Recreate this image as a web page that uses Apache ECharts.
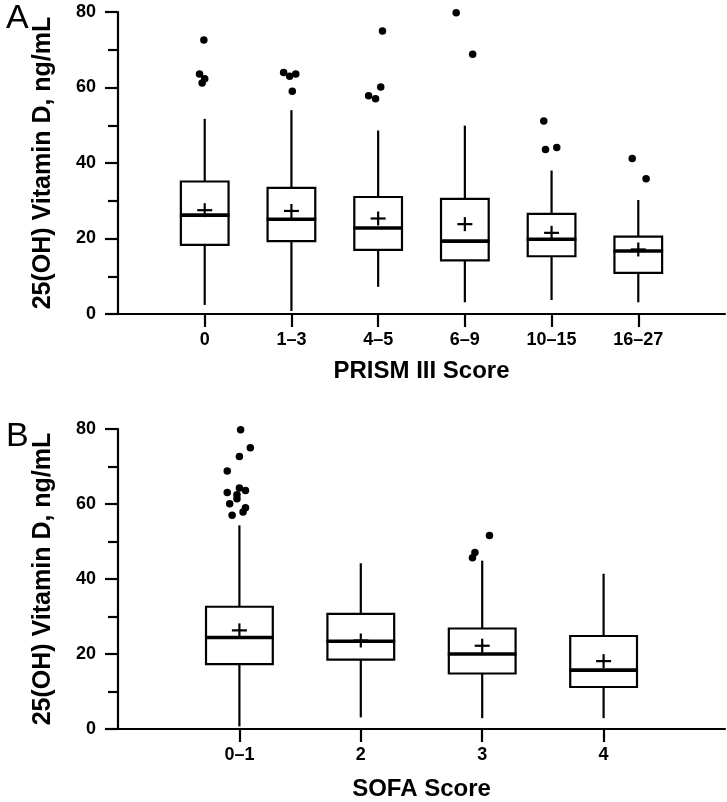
<!DOCTYPE html>
<html>
<head>
<meta charset="utf-8">
<script src="https://cdn.jsdelivr.net/npm/echarts@6/dist/echarts.min.js"></script>
<style>
html,body{margin:0;padding:0;background:#fff;}
#chart{width:727px;height:802px;}
</style>
</head>
<body>
<div id="chart"></div>
<script>
// ---------- Panel A: PRISM III Score ----------
const prismCats   = ['0', '1–3', '4–5', '6–9', '10–15', '16–27'];
const prismMin    = [2.4, 0.8, 7.2, 3.1, 3.7, 3.1];
const prismQ1     = [18.3, 19.3, 17.0, 14.2, 15.3, 10.9];
const prismMedian = [26.2, 25.1, 22.8, 19.3, 19.8, 16.7];
const prismQ3     = [35.1, 33.4, 31.0, 30.5, 26.5, 20.5];
const prismMax    = [51.7, 54.0, 48.6, 49.9, 38.0, 30.2];
const prismMean   = [27.5, 27.3, 25.3, 23.8, 21.5, 17.1];
// outliers: position along the category axis (1 = first group) and value
const prismOutX = [0.99, 0.94, 1.00, 0.97, 1.91, 1.98, 2.05, 2.01, 3.05, 3.03, 2.89, 2.97, 3.90, 4.09, 4.91, 4.93, 5.06, 5.93, 6.09];
const prismOutY = [72.6, 63.6, 62.3, 61.2, 64.0, 63.0, 63.6, 59.0, 75.0, 60.1, 57.8, 57.0, 79.8, 68.8, 51.1, 43.6, 44.1, 41.2, 35.8];

// ---------- Panel B: SOFA Score ----------
const sofaCats   = ['0–1', '2', '3', '4'];
const sofaMin    = [0.7, 3.1, 2.9, 2.9];
const sofaQ1     = [17.3, 18.5, 14.8, 11.2];
const sofaMedian = [24.4, 23.4, 20.0, 15.7];
const sofaQ3     = [32.6, 30.7, 26.8, 24.8];
const sofaMax    = [54.3, 44.2, 44.9, 41.4];
const sofaMean   = [26.3, 23.6, 22.2, 18.1];
const sofaOutX = [1.01, 1.09, 1.00, 0.90, 0.90, 1.00, 1.05, 0.98, 0.98, 0.92, 0.94, 1.03, 1.05, 3.06, 2.94, 2.92];
const sofaOutY = [79.8, 75.0, 72.7, 68.8, 63.1, 64.3, 63.6, 62.5, 61.4, 60.1, 57.0, 57.9, 59.0, 51.6, 47.1, 45.7];

const yTicks = [0, 20, 40, 60, 80];
const yTitle = '25(OH) Vitamin D, ng/mL';

function boxData(mins, q1, med, q3, maxs, means) {
  return mins.map((v, i) => [i + 1, v, q1[i], med[i], q3[i], maxs[i], means[i]]);
}
function outData(xs, ys) { return xs.map((x, i) => [x, ys[i]]); }

const FONT = '"Liberation Sans", Arial, Helvetica, sans-serif';

function renderBox(params, api) {
  const x = api.value(0);
  const lo = api.coord([x, api.value(1)]);
  const q1 = api.coord([x, api.value(2)]);
  const md = api.coord([x, api.value(3)]);
  const q3 = api.coord([x, api.value(4)]);
  const hi = api.coord([x, api.value(5)]);
  const mn = api.coord([x, api.value(6)]);
  const w = api.size([0.55, 0])[0];
  const half = w / 2;
  const cx = lo[0];
  const st = { stroke: '#000', lineWidth: 2.2, fill: null };
  return {
    type: 'group',
    children: [
      { type: 'line', shape: { x1: cx, y1: hi[1], x2: cx, y2: q3[1] }, style: st },
      { type: 'line', shape: { x1: cx, y1: q1[1], x2: cx, y2: lo[1] }, style: st },
      { type: 'rect', shape: { x: cx - half, y: q3[1], width: w, height: q1[1] - q3[1] },
        style: { stroke: '#000', lineWidth: 2.2, fill: '#fff' } },
      { type: 'line', shape: { x1: cx - half - 1, y1: md[1], x2: cx + half + 1, y2: md[1] },
        style: { stroke: '#000', lineWidth: 3.6 } },
      { type: 'line', shape: { x1: cx - 7.5, y1: mn[1], x2: cx + 7.5, y2: mn[1] }, style: st },
      { type: 'line', shape: { x1: cx, y1: mn[1] - 7, x2: cx, y2: mn[1] + 7 }, style: st }
    ]
  };
}

function xAxisFor(gridIndex, cats, name, nameGap) {
  const vals = cats.map((c, i) => i + 1);
  return {
    type: 'value', gridIndex: gridIndex, min: 0, max: cats.length + 1,
    name: name, nameLocation: 'middle', nameGap: nameGap,
    nameTextStyle: { fontFamily: FONT, fontWeight: 'bold', fontSize: 24, color: '#000' },
    axisLine: { show: true, lineStyle: { color: '#000', width: 2.2 } },
    axisTick: { show: true, customValues: vals, length: 13, lineStyle: { color: '#000', width: 2.2 } },
    axisLabel: { show: true, customValues: vals, margin: 17,
      fontFamily: FONT, fontWeight: 'bold', fontSize: 18, color: '#000',
      formatter: v => cats[Math.round(v) - 1] || '' },
    splitLine: { show: false }
  };
}
function yAxisFor(gridIndex) {
  return {
    type: 'value', gridIndex: gridIndex, min: 0, max: 80, interval: 20,
    name: yTitle, nameLocation: 'middle', nameGap: 62, nameRotate: 90,
    nameTextStyle: { fontFamily: FONT, fontWeight: 'bold', fontSize: 25, color: '#000' },
    axisLine: { show: true, lineStyle: { color: '#000', width: 2.2 } },
    axisTick: { show: true, length: 13, lineStyle: { color: '#000', width: 2.2 } },
    minorTick: { show: true, splitNumber: 2, length: 10, lineStyle: { color: '#000', width: 2.2 } },
    axisLabel: { margin: 22, fontFamily: FONT, fontWeight: 'bold', fontSize: 18, color: '#000',
      formatter: v => (yTicks.indexOf(v) >= 0 ? String(v) : '') },
    splitLine: { show: false }
  };
}

const chart = echarts.init(document.getElementById('chart'), null, { renderer: 'canvas' });
chart.setOption({
  backgroundColor: '#fff',
  animation: false,
  title: [
    { text: 'A', left: 1, top: -3, textStyle: { fontFamily: FONT, fontWeight: 'normal', fontSize: 34, color: '#000' } },
    { text: 'B', left: 1, top: 415, textStyle: { fontFamily: FONT, fontWeight: 'normal', fontSize: 34, color: '#000' } }
  ],
  grid: [
    { left: 118, top: 12, width: 607, height: 302 },
    { left: 118, top: 429, width: 607, height: 302 }
  ],
  xAxis: [
    xAxisFor(0, prismCats, 'PRISM III Score', 45),
    xAxisFor(1, sofaCats, 'SOFA Score', 48)
  ],
  yAxis: [yAxisFor(0), yAxisFor(1)],
  series: [
    { type: 'custom', xAxisIndex: 0, yAxisIndex: 0, renderItem: renderBox,
      encode: { x: 0, y: [1, 2, 3, 4, 5, 6] },
      data: boxData(prismMin, prismQ1, prismMedian, prismQ3, prismMax, prismMean), z: 2 },
    { type: 'scatter', xAxisIndex: 0, yAxisIndex: 0, symbol: 'circle', symbolSize: 7.5,
      itemStyle: { color: '#000', opacity: 1 }, data: outData(prismOutX, prismOutY), z: 3 },
    { type: 'custom', xAxisIndex: 1, yAxisIndex: 1, renderItem: renderBox,
      encode: { x: 0, y: [1, 2, 3, 4, 5, 6] },
      data: boxData(sofaMin, sofaQ1, sofaMedian, sofaQ3, sofaMax, sofaMean), z: 2 },
    { type: 'scatter', xAxisIndex: 1, yAxisIndex: 1, symbol: 'circle', symbolSize: 7.5,
      itemStyle: { color: '#000', opacity: 1 }, data: outData(sofaOutX, sofaOutY), z: 3 }
  ]
});
</script>
</body>
</html>
